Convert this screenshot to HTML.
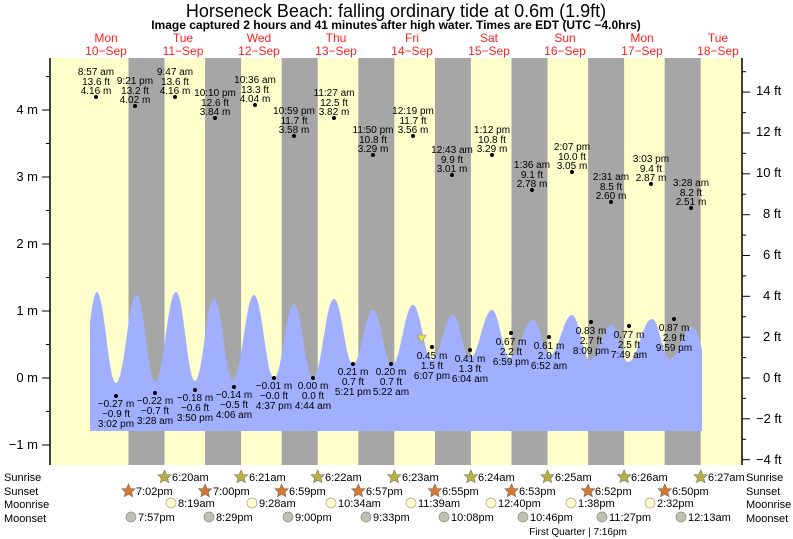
<!DOCTYPE html>
<html><head><meta charset="utf-8"><style>
body{margin:0;background:#fff}
svg{display:block;font-family:"Liberation Sans",sans-serif}
</style></head><body>
<svg width="793" height="539" viewBox="0 0 793 539" xmlns="http://www.w3.org/2000/svg">
<rect x="0" y="0" width="793" height="539" fill="#fff"/>
<rect x="50" y="58" width="692" height="407" fill="#ffffcc"/>
<g fill="#a6a6a6">
<rect x="128.5" y="58" width="36" height="407"/>
<rect x="205.1" y="58" width="36" height="407"/>
<rect x="281.7" y="58" width="36" height="407"/>
<rect x="358.3" y="58" width="36" height="407"/>
<rect x="434.9" y="58" width="36" height="407"/>
<rect x="511.5" y="58" width="36" height="407"/>
<rect x="588.1" y="58" width="36" height="407"/>
<rect x="664.7" y="58" width="36" height="407"/>
</g>
<path fill="#a0b0ff" d="M90,431 L90,323 C92,305 95,292 96.7,292 C104.4,292 108.3,383 116,383 C124.3,383 128.4,295 136.7,295 C144,295 147.7,382 155,382 C163.4,382 167.6,292 176,292 C183.6,292 187.4,381 195,381 C202.6,381 206.4,299 214,299 C221.6,299 225.4,380 233,380 C241.4,380 245.6,295 254,295 C262,295 266,378 274,378 C282,378 286,304 294,304 C301.6,304 305.4,378 313,378 C321.4,378 325.6,299 334,299 C341.6,299 345.4,364 353,364 C361,364 365,310 373,310 C380.6,310 384.4,365 392,365 C400.4,365 404.6,305 413,305 C420.6,305 424.4,360 432,360 C440.4,360 444.6,315 453,315 C459.8,315 463.2,358 470,358 C478.8,358 483.2,310 492,310 C499.2,310 502.8,358 510,358 C519.2,358 523.8,320 533,320 C539.8,320 543.2,355 550,355 C558.8,355 563.2,315 572,315 C579.2,315 582.8,360 590,360 C598.8,360 603.2,325 612,325 C618.4,325 621.6,362 628,362 C637.6,362 642.4,319 652,319 C659.2,319 662.8,359 670,359 C678.8,359 683.2,327 692,327 C696,327 700,340 702,350 L702,431 Z"/>
<line x1="50" y1="58" x2="50" y2="465" stroke="#000" stroke-width="1.5"/>
<line x1="742" y1="58" x2="742" y2="465" stroke="#000" stroke-width="1.5"/>
<g stroke="#000" stroke-width="1">
<line x1="42" y1="110" x2="50" y2="110"/><line x1="42" y1="177" x2="50" y2="177"/><line x1="42" y1="244" x2="50" y2="244"/><line x1="42" y1="311" x2="50" y2="311"/><line x1="42" y1="378" x2="50" y2="378"/><line x1="42" y1="445" x2="50" y2="445"/>
<line x1="46" y1="76.5" x2="50" y2="76.5"/><line x1="46" y1="143.5" x2="50" y2="143.5"/><line x1="46" y1="210.5" x2="50" y2="210.5"/><line x1="46" y1="277.5" x2="50" y2="277.5"/><line x1="46" y1="344.5" x2="50" y2="344.5"/><line x1="46" y1="411.5" x2="50" y2="411.5"/>
<line x1="742" y1="92.1" x2="750" y2="92.1"/><line x1="742" y1="133" x2="750" y2="133"/><line x1="742" y1="173.8" x2="750" y2="173.8"/><line x1="742" y1="214.7" x2="750" y2="214.7"/><line x1="742" y1="255.5" x2="750" y2="255.5"/><line x1="742" y1="296.3" x2="750" y2="296.3"/><line x1="742" y1="337.2" x2="750" y2="337.2"/><line x1="742" y1="378" x2="750" y2="378"/><line x1="742" y1="418.8" x2="750" y2="418.8"/><line x1="742" y1="459.7" x2="750" y2="459.7"/>
<line x1="742" y1="71.7" x2="746" y2="71.7"/><line x1="742" y1="112.6" x2="746" y2="112.6"/><line x1="742" y1="153.4" x2="746" y2="153.4"/><line x1="742" y1="194.2" x2="746" y2="194.2"/><line x1="742" y1="235.1" x2="746" y2="235.1"/><line x1="742" y1="275.9" x2="746" y2="275.9"/><line x1="742" y1="316.8" x2="746" y2="316.8"/><line x1="742" y1="357.6" x2="746" y2="357.6"/><line x1="742" y1="398.4" x2="746" y2="398.4"/><line x1="742" y1="439.3" x2="746" y2="439.3"/>
</g>
<g font-size="13" fill="#000" text-anchor="end">
<text x="38" y="114">4 m</text><text x="38" y="181">3 m</text><text x="38" y="248">2 m</text><text x="38" y="315">1 m</text><text x="38" y="382">0 m</text><text x="38" y="449">−1 m</text>
</g>
<g font-size="13" fill="#000">
<text x="756" y="95">14 ft</text><text x="756" y="136">12 ft</text><text x="756" y="177">10 ft</text><text x="763" y="218">8 ft</text><text x="763" y="259">6 ft</text><text x="763" y="300">4 ft</text><text x="763" y="341">2 ft</text><text x="763" y="382">0 ft</text><text x="756" y="423">−2 ft</text><text x="756" y="464">−4 ft</text>
</g>
<text x="396" y="17" font-size="18" text-anchor="middle" fill="#000">Horseneck Beach: falling  ordinary tide at 0.6m (1.9ft)</text>
<text x="396" y="29" font-size="12" font-weight="bold" text-anchor="middle" fill="#000">Image captured 2 hours and 41 minutes after high water. Times are EDT (UTC −4.0hrs)</text>
<g font-size="12" fill="#ff2020" text-anchor="middle">
<text x="106" y="42">Mon</text><text x="106" y="55">10−Sep</text>
<text x="183" y="42">Tue</text><text x="183" y="55">11−Sep</text>
<text x="259" y="42">Wed</text><text x="259" y="55">12−Sep</text>
<text x="336" y="42">Thu</text><text x="336" y="55">13−Sep</text>
<text x="412" y="42">Fri</text><text x="412" y="55">14−Sep</text>
<text x="489" y="42">Sat</text><text x="489" y="55">15−Sep</text>
<text x="565" y="42">Sun</text><text x="565" y="55">16−Sep</text>
<text x="642" y="42">Mon</text><text x="642" y="55">17−Sep</text>
<text x="718" y="42">Tue</text><text x="718" y="55">18−Sep</text>
</g>
<g font-size="10" fill="#000" text-anchor="middle">
<circle cx="96" cy="97" r="2"/><text x="96" y="75">8:57 am</text><text x="96" y="85">13.6 ft</text><text x="96" y="94">4.16 m</text>
<circle cx="135" cy="106" r="2"/><text x="135" y="84">9:21 pm</text><text x="135" y="94">13.2 ft</text><text x="135" y="103">4.02 m</text>
<circle cx="175" cy="97" r="2"/><text x="175" y="75">9:47 am</text><text x="175" y="85">13.6 ft</text><text x="175" y="94">4.16 m</text>
<circle cx="215" cy="118" r="2"/><text x="215" y="96">10:10 pm</text><text x="215" y="106">12.6 ft</text><text x="215" y="115">3.84 m</text>
<circle cx="255" cy="105" r="2"/><text x="255" y="83">10:36 am</text><text x="255" y="93">13.3 ft</text><text x="255" y="102">4.04 m</text>
<circle cx="294" cy="136" r="2"/><text x="294" y="114">10:59 pm</text><text x="294" y="124">11.7 ft</text><text x="294" y="133">3.58 m</text>
<circle cx="334" cy="118" r="2"/><text x="334" y="96">11:27 am</text><text x="334" y="106">12.5 ft</text><text x="334" y="115">3.82 m</text>
<circle cx="373" cy="155" r="2"/><text x="373" y="133">11:50 pm</text><text x="373" y="143">10.8 ft</text><text x="373" y="152">3.29 m</text>
<circle cx="413" cy="136" r="2"/><text x="413" y="114">12:19 pm</text><text x="413" y="124">11.7 ft</text><text x="413" y="133">3.56 m</text>
<circle cx="452" cy="175" r="2"/><text x="452" y="153">12:43 am</text><text x="452" y="163">9.9 ft</text><text x="452" y="172">3.01 m</text>
<circle cx="492" cy="155" r="2"/><text x="492" y="133">1:12 pm</text><text x="492" y="143">10.8 ft</text><text x="492" y="152">3.29 m</text>
<circle cx="532" cy="190" r="2"/><text x="532" y="168">1:36 am</text><text x="532" y="178">9.1 ft</text><text x="532" y="187">2.78 m</text>
<circle cx="572" cy="172" r="2"/><text x="572" y="150">2:07 pm</text><text x="572" y="160">10.0 ft</text><text x="572" y="169">3.05 m</text>
<circle cx="611" cy="202" r="2"/><text x="611" y="180">2:31 am</text><text x="611" y="190">8.5 ft</text><text x="611" y="199">2.60 m</text>
<circle cx="651" cy="184" r="2"/><text x="651" y="162">3:03 pm</text><text x="651" y="172">9.4 ft</text><text x="651" y="181">2.87 m</text>
<circle cx="691" cy="208" r="2"/><text x="691" y="186">3:28 am</text><text x="691" y="196">8.2 ft</text><text x="691" y="205">2.51 m</text>
</g>
<g font-size="10" fill="#000" text-anchor="middle">
<circle cx="116" cy="396" r="2"/><text x="116" y="407">−0.27 m</text><text x="116" y="417">−0.9 ft</text><text x="116" y="427">3:02 pm</text>
<circle cx="155" cy="393" r="2"/><text x="155" y="404">−0.22 m</text><text x="155" y="414">−0.7 ft</text><text x="155" y="424">3:28 am</text>
<circle cx="195" cy="390" r="2"/><text x="195" y="401">−0.18 m</text><text x="195" y="411">−0.6 ft</text><text x="195" y="421">3:50 pm</text>
<circle cx="234" cy="387" r="2"/><text x="234" y="398">−0.14 m</text><text x="234" y="408">−0.5 ft</text><text x="234" y="418">4:06 am</text>
<circle cx="274" cy="378" r="2"/><text x="274" y="389">−0.01 m</text><text x="274" y="399">−0.0 ft</text><text x="274" y="409">4:37 pm</text>
<circle cx="313" cy="378" r="2"/><text x="313" y="389">0.00 m</text><text x="313" y="399">0.0 ft</text><text x="313" y="409">4:44 am</text>
<circle cx="353" cy="364" r="2"/><text x="353" y="375">0.21 m</text><text x="353" y="385">0.7 ft</text><text x="353" y="395">5:21 pm</text>
<circle cx="391" cy="364" r="2"/><text x="391" y="375">0.20 m</text><text x="391" y="385">0.7 ft</text><text x="391" y="395">5:22 am</text>
<circle cx="432" cy="347" r="2"/><text x="432" y="359">0.45 m</text><text x="432" y="369">1.5 ft</text><text x="432" y="379">6:07 pm</text>
<circle cx="470" cy="350" r="2"/><text x="470" y="362">0.41 m</text><text x="470" y="372">1.3 ft</text><text x="470" y="382">6:04 am</text>
<circle cx="511" cy="333" r="2"/><text x="511" y="345">0.67 m</text><text x="511" y="355">2.2 ft</text><text x="511" y="365">6:59 pm</text>
<circle cx="549" cy="337" r="2"/><text x="549" y="349">0.61 m</text><text x="549" y="359">2.0 ft</text><text x="549" y="369">6:52 am</text>
<circle cx="591" cy="322" r="2"/><text x="591" y="334">0.83 m</text><text x="591" y="344">2.7 ft</text><text x="591" y="354">8:09 pm</text>
<circle cx="629" cy="326" r="2"/><text x="629" y="338">0.77 m</text><text x="629" y="348">2.5 ft</text><text x="629" y="358">7:49 am</text>
<circle cx="674" cy="319" r="2"/><text x="674" y="331">0.87 m</text><text x="674" y="341">2.9 ft</text><text x="674" y="351">9:59 pm</text>
</g>
<polygon points="417,335 426,335 421.5,343" fill="#e8e040" stroke="#888" stroke-width="0.6"/>
<g font-size="11" fill="#000">
<text x="4" y="481">Sunrise</text><text x="4" y="495">Sunset</text><text x="4" y="508">Moonrise</text><text x="4" y="522">Moonset</text>
<text x="746" y="481">Sunrise</text><text x="746" y="495">Sunset</text><text x="746" y="508">Moonrise</text><text x="746" y="522">Moonset</text>
</g>
<defs>
<polygon id="st" points="0,-7 2,-2.5 6.7,-2.2 3.2,1 4.2,5.7 0,3.2 -4.2,5.7 -3.2,1 -6.7,-2.2 -2,-2.5"/>
</defs>
<g font-size="11" fill="#000">
<use href="#st" x="164.5" y="477" fill="#b8b040" stroke="#776" stroke-width="0.6"/><text x="172" y="481">6:20am</text>
<use href="#st" x="241.1" y="477" fill="#b8b040" stroke="#776" stroke-width="0.6"/><text x="249" y="481">6:21am</text>
<use href="#st" x="317.7" y="477" fill="#b8b040" stroke="#776" stroke-width="0.6"/><text x="325" y="481">6:22am</text>
<use href="#st" x="394.3" y="477" fill="#b8b040" stroke="#776" stroke-width="0.6"/><text x="402" y="481">6:23am</text>
<use href="#st" x="470.9" y="477" fill="#b8b040" stroke="#776" stroke-width="0.6"/><text x="478" y="481">6:24am</text>
<use href="#st" x="547.5" y="477" fill="#b8b040" stroke="#776" stroke-width="0.6"/><text x="555" y="481">6:25am</text>
<use href="#st" x="624.1" y="477" fill="#b8b040" stroke="#776" stroke-width="0.6"/><text x="631" y="481">6:26am</text>
<use href="#st" x="700.7" y="477" fill="#b8b040" stroke="#776" stroke-width="0.6"/><text x="708" y="481">6:27am</text>
<use href="#st" x="128.5" y="491" fill="#d87830" stroke="#765" stroke-width="0.6"/><text x="136" y="495">7:02pm</text>
<use href="#st" x="205.1" y="491" fill="#d87830" stroke="#765" stroke-width="0.6"/><text x="213" y="495">7:00pm</text>
<use href="#st" x="281.7" y="491" fill="#d87830" stroke="#765" stroke-width="0.6"/><text x="289" y="495">6:59pm</text>
<use href="#st" x="358.3" y="491" fill="#d87830" stroke="#765" stroke-width="0.6"/><text x="366" y="495">6:57pm</text>
<use href="#st" x="434.9" y="491" fill="#d87830" stroke="#765" stroke-width="0.6"/><text x="442" y="495">6:55pm</text>
<use href="#st" x="511.5" y="491" fill="#d87830" stroke="#765" stroke-width="0.6"/><text x="519" y="495">6:53pm</text>
<use href="#st" x="588.1" y="491" fill="#d87830" stroke="#765" stroke-width="0.6"/><text x="595" y="495">6:52pm</text>
<use href="#st" x="664.7" y="491" fill="#d87830" stroke="#765" stroke-width="0.6"/><text x="672" y="495">6:50pm</text>
</g>
<g font-size="11" fill="#000">
<g fill="#ffffc8" stroke="#999" stroke-width="0.7">
<circle cx="171" cy="503" r="5"/><circle cx="252" cy="503" r="5"/><circle cx="331" cy="503" r="5"/><circle cx="411" cy="503" r="5"/><circle cx="491" cy="503" r="5"/><circle cx="571" cy="503" r="5"/><circle cx="650" cy="503" r="5"/>
</g>
<text x="178" y="507">8:19am</text><text x="259" y="507">9:28am</text><text x="338" y="507">10:34am</text><text x="418" y="507">11:39am</text><text x="498" y="507">12:40pm</text><text x="578" y="507">1:38pm</text><text x="657" y="507">2:32pm</text>
<g fill="#c0c0b0" stroke="#888" stroke-width="0.7">
<circle cx="131" cy="517" r="5"/><circle cx="209" cy="517" r="5"/><circle cx="288" cy="517" r="5"/><circle cx="366" cy="517" r="5"/><circle cx="444" cy="517" r="5"/><circle cx="523" cy="517" r="5"/><circle cx="602" cy="517" r="5"/><circle cx="681" cy="517" r="5"/>
</g>
<text x="138" y="521">7:57pm</text><text x="216" y="521">8:29pm</text><text x="295" y="521">9:00pm</text><text x="373" y="521">9:33pm</text><text x="451" y="521">10:08pm</text><text x="530" y="521">10:46pm</text><text x="609" y="521">11:27pm</text><text x="688" y="521">12:13am</text>
</g>
<text x="578" y="535" font-size="10" text-anchor="middle" fill="#000">First Quarter | 7:16pm</text>
</svg>
</body></html>
